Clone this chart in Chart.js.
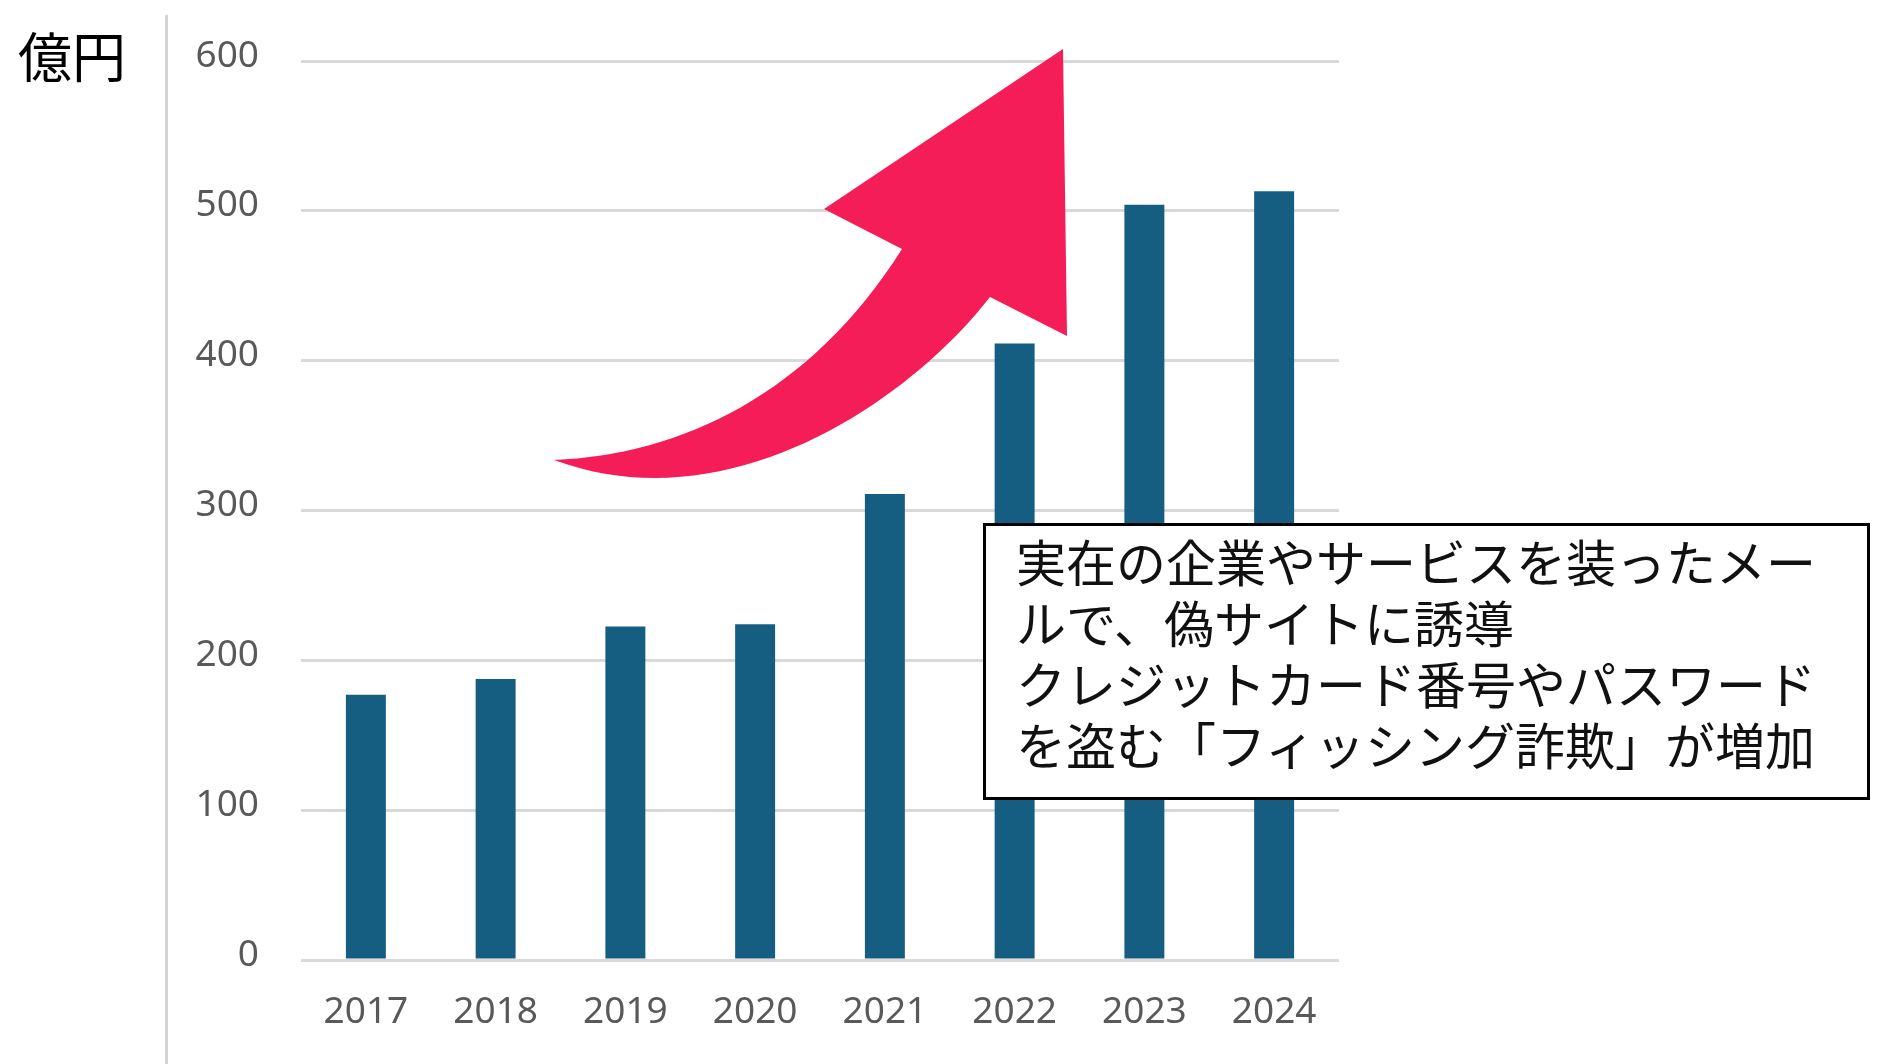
<!DOCTYPE html>
<html lang="ja">
<head>
<meta charset="utf-8">
<title>フィッシング詐欺 被害額</title>
<script src="https://cdn.jsdelivr.net/npm/chart.js@4.4.1/dist/chart.umd.min.js"></script>
<style>
  html, body { margin:0; padding:0; background:#fff; }
  #wrap { position:relative; width:1892px; height:1064px; overflow:hidden; }
  #chart { position:absolute; left:0; top:0; }
  .unit { position:absolute; left:18px; top:28px; font-family:"Noto Sans CJK JP", sans-serif; font-size:54px; line-height:54px; color:#000; }
  .rule { position:absolute; left:165px; top:15px; width:3px; height:1049px; background:#d4d4d4; }
  .note { position:absolute; left:983px; top:523px; width:887px; height:277px; box-sizing:border-box;
          border:3px solid #000; background:#fff; padding:4px 0 0 30px;
          font-family:"Noto Sans CJK JP", sans-serif; font-size:50px; line-height:61px; color:#111; white-space:nowrap; }
</style>
</head>
<body>
<div id="wrap">
  <canvas id="chart" width="1892" height="1064"></canvas>
  <div class="rule"></div>
  <div class="unit">億円</div>
  <div class="note">実在の企業やサービスを装ったメー<br>ルで、偽サイトに誘導<br>クレジットカード番号やパスワード<br>を盗む「フィッシング詐欺」が増加</div>
</div>
<script>
const years = ['2017', '2018', '2019', '2020', '2021', '2022', '2023', '2024'];
const amounts = [177, 187.5, 222.5, 224, 311, 411.5, 504, 513];
const yMin = 0;
const yMax = 600;
const yStep = 100;

// curved pink arrow drawn over the chart (decoration, canvas px)
const arrowPlugin = {
  id: 'arrow',
  afterDatasetsDraw(c) {
    const g = c.ctx;
    g.save();
    g.fillStyle = '#f51d57';
    g.beginPath();
    g.moveTo(554, 460);
    g.bezierCurveTo(680, 455, 810, 395, 902, 249);
    g.lineTo(824, 209);
    g.lineTo(1063, 49);
    g.lineTo(1067, 336);
    g.lineTo(990, 297);
    g.bezierCurveTo(910, 400, 730, 525, 554, 460);
    g.closePath();
    g.fill();
    g.restore();
  }
};

let chart;
function renderChart(labels, series) {
  const ctx = document.getElementById('chart');
  if (chart) chart.destroy();
  chart = new Chart(ctx, {
    type: 'bar',
    data: {
      labels,
      datasets: [{
        label: '被害額',
        data: series,
        backgroundColor: '#155e82',
        borderWidth: 0,
        barPercentage: 0.308,
        categoryPercentage: 1
      }]
    },
    options: {
      responsive: false,
      animation: false,
      devicePixelRatio: 1,
      layout: { padding: { left: 0, top: 61, right: 553, bottom: 0 } },
      plugins: { legend: { display: false }, tooltip: { enabled: false } },
      scales: {
        x: {
          grid: { display: false },
          border: { display: false },
          ticks: { color: '#595959', padding: 22, font: { family: 'Noto Sans', size: 37 } },
          afterFit(s) { s.height = 104; }
        },
        y: {
          min: yMin,
          max: yMax,
          grid: { color: '#d9d9d9', lineWidth: 3, drawTicks: false },
          border: { display: false },
          ticks: { stepSize: yStep, color: '#595959', padding: 42, labelOffset: -5, font: { family: 'Noto Sans', size: 37 } },
          // fixed axis width; drop label overflow so the plot top sits at the padding
          afterFit(s) { s.width = 301; s.paddingTop = 0; s.paddingBottom = 0; }
        }
      }
    },
    plugins: [arrowPlugin]
  });
}
renderChart(years, amounts);
</script>
</body>
</html>
